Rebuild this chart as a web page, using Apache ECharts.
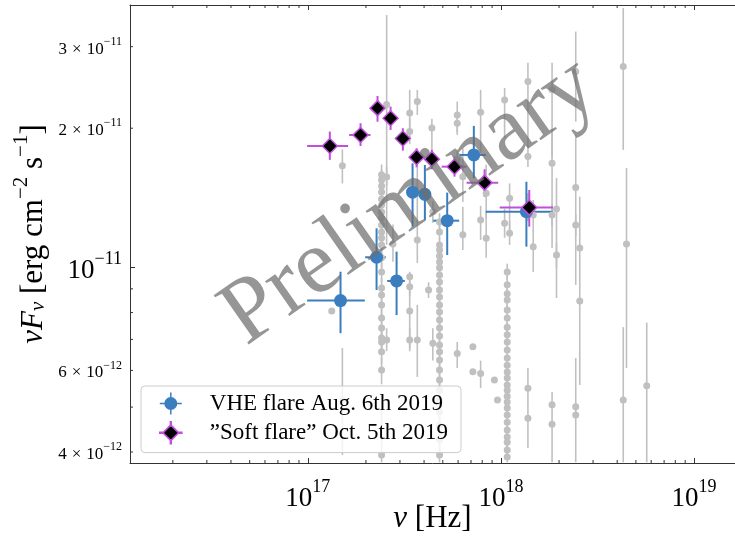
<!DOCTYPE html>
<html><head><meta charset="utf-8">
<script src="https://cdn.jsdelivr.net/npm/echarts@6/dist/echarts.min.js"></script>
<style>html,body{margin:0;padding:0;background:#fff}#c{width:735px;height:536px}</style>
</head><body><div id="c"></div>
<script>
// ---------- data (nu [Hz], nuFnu [erg cm^-2 s^-1]) ----------
const vheNu   = [1.477e17, 2.270e17, 2.882e17, 3.487e17, 4.039e17, 5.27e17, 7.24e17, 1.355e18];
const vheNuLo = [9.92e16, 1.981e17, 2.576e17, 3.33e17, 3.85e17, 4.46e17, 6.13e17, 8.36e17];
const vheNuHi = [1.974e17, 2.535e17, 3.181e17, 3.66e17, 4.24e17, 6.08e17, 8.36e17, 1.86e18];
const vheF    = [8.49e-12, 1.053e-11, 9.36e-12, 1.455e-11, 1.440e-11, 1.263e-11, 1.751e-11, 1.321e-11];
const vheFLo  = [7.22e-12, 8.95e-12, 7.90e-12, 1.226e-11, 1.268e-11, 1.065e-11, 1.560e-11, 1.110e-11];
const vheFHi  = [9.80e-12, 1.216e-11, 1.083e-11, 1.680e-11, 1.666e-11, 1.452e-11, 2.023e-11, 1.533e-11];

const softNu   = [1.300e17, 1.875e17, 2.296e17, 2.683e17, 3.106e17, 3.658e17, 4.39e17, 5.75e17, 8.23e17, 1.402e18];
const softNuLo = [9.92e16, 1.637e17, 2.146e17, 2.51e17, 2.89e17, 3.42e17, 4.04e17, 4.93e17, 6.64e17, 9.85e17];
const softNuHi = [1.618e17, 2.113e17, 2.477e17, 2.86e17, 3.34e17, 3.90e17, 4.77e17, 6.64e17, 9.68e17, 1.86e18];
const softF    = [1.831e-11, 1.934e-11, 2.210e-11, 2.102e-11, 1.900e-11, 1.732e-11, 1.715e-11, 1.652e-11, 1.526e-11, 1.348e-11];
const softFLo  = [1.709e-11, 1.831e-11, 2.066e-11, 1.983e-11, 1.789e-11, 1.647e-11, 1.631e-11, 1.572e-11, 1.423e-11, 1.226e-11];
const softFHi  = [1.967e-11, 2.050e-11, 2.348e-11, 2.227e-11, 2.000e-11, 1.810e-11, 1.795e-11, 1.737e-11, 1.631e-11, 1.471e-11];

// archival points: [nu, nuFnu, nuFnu_low, nuFnu_high]
const archival = [
 [1.33e17, 8.06e-12, 8.06e-12, 8.06e-12],
 [1.51e17, 1.66e-11, 1.52e-11, 1.80e-11],
 [1.51e17, 5.18e-12, 3.94e-12, 6.71e-12],
 [2.41e17, 1.586e-11, 1.51e-11, 1.67e-11],
 [2.41e17, 1.547e-11, 1.47e-11, 1.63e-11],
 [2.41e17, 1.501e-11, 1.43e-11, 1.58e-11],
 [2.41e17, 1.457e-11, 1.39e-11, 1.53e-11],
 [2.41e17, 1.407e-11, 1.34e-11, 1.48e-11],
 [2.41e17, 1.366e-11, 1.30e-11, 1.44e-11],
 [2.41e17, 1.319e-11, 1.25e-11, 1.39e-11],
 [2.41e17, 1.280e-11, 1.22e-11, 1.35e-11],
 [2.41e17, 1.236e-11, 1.18e-11, 1.30e-11],
 [2.41e17, 1.194e-11, 1.14e-11, 1.26e-11],
 [2.41e17, 1.159e-11, 1.10e-11, 1.22e-11],
 [2.41e17, 1.119e-11, 1.06e-11, 1.18e-11],
 [2.41e17, 1.050e-11, 1.00e-11, 1.10e-11],
 [2.41e17, 9.79e-12, 9.3e-12, 1.03e-11],
 [2.41e17, 9.04e-12, 8.6e-12, 9.5e-12],
 [2.41e17, 8.73e-12, 8.3e-12, 9.2e-12],
 [2.41e17, 8.31e-12, 7.9e-12, 8.7e-12],
 [2.41e17, 7.79e-12, 7.4e-12, 8.2e-12],
 [2.41e17, 7.41e-12, 7.0e-12, 7.8e-12],
 [2.41e17, 7.05e-12, 6.7e-12, 7.4e-12],
 [2.41e17, 6.91e-12, 6.6e-12, 7.3e-12],
 [2.41e17, 6.58e-12, 6.2e-12, 6.9e-12],
 [2.41e17, 6.01e-12, 5.6e-12, 6.4e-12],
 [2.41e17, 3.94e-12, 3.80e-12, 5.3e-12],
 [2.56e17, 2.25e-11, 1.12e-11, 3.51e-11],
 [2.56e17, 1.57e-11, 1.50e-11, 1.65e-11],
 [2.56e17, 6.98e-12, 6.6e-12, 7.4e-12],
 [2.76e17, 1.125e-11, 1.03e-11, 1.24e-11],
 [3.37e17, 2.156e-11, 1.906e-11, 2.42e-11],
 [3.37e17, 1.967e-11, 1.85e-11, 2.10e-11],
 [3.37e17, 9.56e-12, 9.56e-12, 9.56e-12],
 [3.37e17, 9.10e-12, 8.7e-12, 9.5e-12],
 [3.37e17, 8.06e-12, 6.71e-12, 9.80e-12],
 [3.37e17, 6.98e-12, 6.6e-12, 7.4e-12],
 [3.69e17, 2.283e-11, 2.137e-11, 2.42e-11],
 [3.69e17, 1.448e-11, 1.28e-11, 1.667e-11],
 [3.69e17, 1.148e-11, 1.024e-11, 1.289e-11],
 [3.69e17, 6.98e-12, 5.81e-12, 8.31e-12],
 [4.39e17, 2.003e-11, 1.726e-11, 2.096e-11],
 [4.22e17, 8.95e-12, 8.6e-12, 9.3e-12],
 [4.44e17, 1.32e-11, 1.25e-11, 1.39e-11],
 [4.44e17, 6.87e-12, 6.3e-12, 7.4e-12],
 [4.81e17, 1.255e-11, 1.21e-11, 1.31e-11],
 [4.81e17, 1.194e-11, 1.15e-11, 1.24e-11],
 [4.81e17, 1.119e-11, 1.08e-11, 1.16e-11],
 [4.81e17, 1.092e-11, 1.05e-11, 1.14e-11],
 [4.81e17, 1.060e-11, 1.02e-11, 1.10e-11],
 [4.81e17, 1.029e-11, 9.9e-12, 1.07e-11],
 [4.81e17, 9.99e-12, 9.6e-12, 1.04e-11],
 [4.81e17, 9.64e-12, 9.3e-12, 1.00e-11],
 [4.81e17, 9.31e-12, 8.9e-12, 9.7e-12],
 [4.81e17, 8.95e-12, 8.6e-12, 9.3e-12],
 [4.81e17, 8.64e-12, 8.3e-12, 9.0e-12],
 [4.81e17, 8.31e-12, 8.0e-12, 8.6e-12],
 [4.81e17, 8.02e-12, 7.7e-12, 8.3e-12],
 [4.81e17, 7.71e-12, 7.4e-12, 8.0e-12],
 [4.81e17, 7.41e-12, 7.1e-12, 7.7e-12],
 [4.81e17, 7.12e-12, 6.8e-12, 7.4e-12],
 [4.81e17, 6.81e-12, 6.5e-12, 7.1e-12],
 [4.81e17, 6.58e-12, 6.3e-12, 6.9e-12],
 [4.81e17, 6.32e-12, 6.0e-12, 6.6e-12],
 [4.81e17, 6.01e-12, 5.7e-12, 6.3e-12],
 [4.81e17, 5.72e-12, 5.5e-12, 6.0e-12],
 [4.81e17, 5.44e-12, 5.2e-12, 5.7e-12],
 [4.81e17, 5.18e-12, 4.9e-12, 5.4e-12],
 [4.81e17, 4.88e-12, 4.6e-12, 5.1e-12],
 [4.81e17, 4.57e-12, 4.3e-12, 4.8e-12],
 [4.81e17, 4.25e-12, 4.0e-12, 4.5e-12],
 [4.81e17, 3.94e-12, 3.8e-12, 4.2e-12],
 [5.94e17, 2.137e-11, 1.935e-11, 2.283e-11],
 [5.94e17, 2.05e-11, 1.96e-11, 2.14e-11],
 [5.94e17, 1.708e-11, 1.62e-11, 1.80e-11],
 [5.94e17, 6.53e-12, 6.07e-12, 6.91e-12],
 [6.35e17, 1.572e-11, 1.386e-11, 1.814e-11],
 [6.35e17, 1.177e-11, 1.092e-11, 1.354e-11],
 [7.16e17, 6.75e-12, 6.75e-12, 6.75e-12],
 [7.16e17, 5.96e-12, 5.96e-12, 5.96e-12],
 [7.85e17, 2.166e-11, 1.752e-11, 2.42e-11],
 [7.85e17, 1.268e-11, 1.148e-11, 1.36e-11],
 [7.85e17, 5.91e-12, 5.5e-12, 6.3e-12],
 [8.39e17, 1.448e-11, 1.28e-11, 1.667e-11],
 [8.39e17, 1.157e-11, 1.05e-11, 1.33e-11],
 [9.25e17, 5.72e-12, 5.72e-12, 5.72e-12],
 [9.6e17, 5.18e-12, 5.18e-12, 5.18e-12],
 [1.045e18, 2.302e-11, 1.906e-11, 2.444e-11],
 [1.045e18, 1.247e-11, 1.16e-11, 1.34e-11],
 [1.078e18, 9.79e-12, 9.4e-12, 1.02e-11],
 [1.078e18, 9.18e-12, 8.8e-12, 9.6e-12],
 [1.078e18, 8.78e-12, 8.4e-12, 9.2e-12],
 [1.078e18, 8.52e-12, 8.2e-12, 8.9e-12],
 [1.078e18, 8.10e-12, 7.8e-12, 8.4e-12],
 [1.078e18, 7.79e-12, 7.5e-12, 8.1e-12],
 [1.078e18, 7.44e-12, 7.1e-12, 7.8e-12],
 [1.078e18, 7.16e-12, 6.9e-12, 7.5e-12],
 [1.078e18, 6.91e-12, 6.6e-12, 7.2e-12],
 [1.078e18, 6.64e-12, 6.4e-12, 6.9e-12],
 [1.078e18, 6.38e-12, 6.1e-12, 6.6e-12],
 [1.078e18, 6.16e-12, 5.9e-12, 6.4e-12],
 [1.078e18, 5.95e-12, 5.7e-12, 6.2e-12],
 [1.078e18, 5.78e-12, 5.5e-12, 6.0e-12],
 [1.078e18, 5.58e-12, 5.4e-12, 5.8e-12],
 [1.078e18, 5.44e-12, 5.2e-12, 5.7e-12],
 [1.078e18, 5.28e-12, 5.1e-12, 5.5e-12],
 [1.078e18, 5.13e-12, 4.9e-12, 5.3e-12],
 [1.078e18, 4.98e-12, 4.8e-12, 5.2e-12],
 [1.078e18, 4.81e-12, 4.6e-12, 5.0e-12],
 [1.078e18, 4.64e-12, 4.5e-12, 4.8e-12],
 [1.078e18, 4.46e-12, 4.3e-12, 4.6e-12],
 [1.078e18, 4.31e-12, 4.1e-12, 4.5e-12],
 [1.078e18, 4.20e-12, 4.0e-12, 4.4e-12],
 [1.078e18, 4.04e-12, 3.9e-12, 4.2e-12],
 [1.078e18, 3.90e-12, 3.8e-12, 4.1e-12],
 [1.109e18, 1.412e-11, 1.187e-11, 1.52e-11],
 [1.109e18, 1.187e-11, 1.12e-11, 1.26e-11],
 [1.38e18, 2.522e-11, 1.814e-11, 2.768e-11],
 [1.38e18, 1.737e-11, 1.65e-11, 1.83e-11],
 [1.38e18, 1.354e-11, 1.26e-11, 1.45e-11],
 [1.38e18, 5.49e-12, 4.08e-12, 6.07e-12],
 [1.38e18, 4.73e-12, 4.73e-12, 4.73e-12],
 [1.47e18, 1.30e-11, 1.20e-11, 1.40e-11],
 [1.47e18, 1.11e-11, 9.79e-12, 1.206e-11],
 [1.84e18, 2.42e-11, 1.734e-11, 2.768e-11],
 [1.84e18, 1.681e-11, 1.103e-11, 1.964e-11],
 [1.84e18, 1.30e-11, 1.23e-11, 1.37e-11],
 [1.84e18, 5.06e-12, 3.80e-12, 5.39e-12],
 [1.84e18, 4.59e-12, 4.59e-12, 4.59e-12],
 [1.94e18, 1.339e-11, 8.60e-12, 1.562e-11],
 [1.94e18, 1.065e-11, 1.0e-11, 1.13e-11],
 [2.44e18, 2.651e-11, 2.067e-11, 3.234e-11],
 [2.44e18, 1.489e-11, 9.18e-12, 1.935e-11],
 [2.44e18, 1.236e-11, 1.17e-11, 1.30e-11],
 [2.44e18, 5.01e-12, 3.80e-12, 6.38e-12],
 [2.44e18, 4.81e-12, 4.81e-12, 4.81e-12],
 [2.56e18, 1.103e-11, 5.58e-12, 1.423e-11],
 [2.56e18, 8.47e-12, 8.47e-12, 8.47e-12],
 [4.30e18, 2.718e-11, 1.796e-11, 3.633e-11],
 [4.30e18, 5.18e-12, 3.80e-12, 7.44e-12],
 [4.47e18, 1.125e-11, 6.07e-12, 1.642e-11],
 [5.69e18, 5.56e-12, 3.80e-12, 7.61e-12]
];

// axes
const xRange = [1.2e16, 1.63e19];
const yRange = [3.787e-12, 3.69e-11];
const xMinorTicks = [2e16,3e16,4e16,5e16,6e16,7e16,8e16,9e16,2e17,3e17,4e17,5e17,6e17,7e17,8e17,9e17,2e18,3e18,4e18,5e18,6e18,7e18,8e18,9e18];
const yMinorTicks = [4e-12,5e-12,6e-12,7e-12,8e-12,9e-12,2e-11,3e-11];
const yMinorLabelValues = [4e-12, 6e-12, 2e-11, 3e-11];
const yMinorLabelMant   = ['4', '6', '2', '3'];
const yMinorLabelExp    = ['−12', '−12', '−11', '−11'];

const nameVHE  = 'VHE flare Aug. 6th 2019';
const nameSoft = '”Soft flare” Oct. 5th 2019';

// ---------- style ----------
const SERIF = '"Liberation Serif", "DejaVu Serif", serif';
const BLUE = '#3a7ebf', VIOLET = '#c24fdc', GREY = '#c0c0c0', AX = '#333333';

function errRenderer(color, lw) {
  return function (params, api) {
    const x = api.value(0), y = api.value(1);
    const c = api.coord([x, y]);
    const xl = api.coord([api.value(2), y])[0], xh = api.coord([api.value(3), y])[0];
    const yl = api.coord([x, api.value(4)])[1], yh = api.coord([x, api.value(5)])[1];
    const ch = [];
    if (Math.abs(xh - xl) > 0.5) ch.push({type: 'line', shape: {x1: xl, y1: c[1], x2: xh, y2: c[1]}, style: {stroke: color, lineWidth: lw}});
    if (Math.abs(yh - yl) > 0.5) ch.push({type: 'line', shape: {x1: c[0], y1: yl, x2: c[0], y2: yh}, style: {stroke: color, lineWidth: lw}});
    return {type: 'group', children: ch};
  };
}
const archErr = archival.map(r => [r[0], r[1], r[0], r[0], r[2], r[3]]);
const vheErr = vheNu.map((v, i) => [v, vheF[i], vheNuLo[i], vheNuHi[i], vheFLo[i], vheFHi[i]]);
const softErr = softNu.map((v, i) => [v, softF[i], softNuLo[i], softNuHi[i], softFLo[i], softFHi[i]]);

const bigRich = {
  b: {fontFamily: SERIF, fontSize: 27, lineHeight: 34, verticalAlign: 'bottom', color: '#000'},
  s: {fontFamily: SERIF, fontSize: 18, lineHeight: 18, verticalAlign: 'top', color: '#000'}
};
const smallRich = {
  b: {fontFamily: SERIF, fontSize: 17, lineHeight: 22, verticalAlign: 'bottom', fill: '#000'},
  x: {fontFamily: SERIF, fontSize: 17, lineHeight: 22, verticalAlign: 'bottom', padding: [0, 5, 0, 5], fill: '#000'},
  s: {fontFamily: SERIF, fontSize: 12, lineHeight: 12, verticalAlign: 'top', fill: '#000'}
};
const nameRich = {
  i: {fontFamily: SERIF, fontSize: 31, lineHeight: 38, fontStyle: 'italic', verticalAlign: 'bottom', color: '#000'},
  n: {fontFamily: SERIF, fontSize: 31, lineHeight: 38, verticalAlign: 'bottom', color: '#000'},
  sb: {fontFamily: SERIF, fontSize: 21, lineHeight: 21, fontStyle: 'italic', verticalAlign: 'bottom', color: '#000'},
  sp: {fontFamily: SERIF, fontSize: 21, lineHeight: 21, verticalAlign: 'top', color: '#000'}
};
function powLabel(v) {
  const e = Math.round(Math.log10(v));
  return '{b|10}{s|' + String(e).replace('-', '−') + '}';
}

const blueIcon = 'path://M10.25,0H11.75V22H10.25Z M0,10.25H22V11.75H0Z M11,4.5A6.5,6.5,0,1,1,10.99,4.5Z';
const softIcon = 'path://M10.6,0H11.4V3.6L18.4,10.6H22V11.4H18.4L11.4,18.4V22H10.6V18.4L3.6,11.4H0V10.6H3.6L10.6,3.6Z';

const chart = echarts.init(document.getElementById('c'), null, {renderer: 'canvas'});
chart.setOption({
  animation: false,
  backgroundColor: '#ffffff',
  grid: {left: 130, right: 0, top: 5, bottom: 73, containLabel: false, outerBoundsMode: 'none'},
  xAxis: [{
    type: 'log', logBase: 10, min: xRange[0], max: xRange[1], position: 'bottom',
    axisLine: {show: true, onZero: false, lineStyle: {color: AX, width: 1}},
    axisTick: {show: true, inside: true, length: 5, lineStyle: {color: AX, width: 1}},
    axisLabel: {show: true, margin: 15, showMinLabel: false, showMaxLabel: false, formatter: powLabel, rich: bigRich},
    splitLine: {show: false},
    name: '{i|ν}{n| [Hz]}', nameLocation: 'middle', nameGap: 33, nameMoveOverlap: false,
    nameTextStyle: {rich: nameRich}
  }, {
    type: 'log', logBase: 10, min: xRange[0], max: xRange[1], position: 'top',
    axisLine: {show: true, onZero: false, lineStyle: {color: AX, width: 1}},
    axisTick: {show: true, inside: true, length: 5, lineStyle: {color: AX, width: 1}},
    axisLabel: {show: false}, splitLine: {show: false}
  }],
  yAxis: [{
    type: 'log', logBase: 10, min: yRange[0], max: yRange[1], position: 'left',
    axisLine: {show: true, onZero: false, lineStyle: {color: AX, width: 1}},
    axisTick: {show: true, inside: true, length: 5, lineStyle: {color: AX, width: 1}},
    axisLabel: {show: true, margin: 8, showMinLabel: false, showMaxLabel: false, formatter: powLabel, rich: bigRich},
    splitLine: {show: false},
    name: '{i|νF}{sb|ν}{n| [erg cm}{sp|−2}{n| s}{sp|−1}{n|]}', nameLocation: 'middle', nameGap: 81, nameRotate: 90, nameMoveOverlap: false,
    nameTextStyle: {rich: nameRich}
  }],
  legend: {
    show: true, orient: 'vertical', left: 141, top: 386,
    padding: [6, 13, 8, 18], itemGap: 6, itemWidth: 22, itemHeight: 22,
    backgroundColor: 'rgba(255,255,255,0.8)', borderColor: '#cccccc', borderWidth: 1, borderRadius: 4,
    selectedMode: false,
    formatter: n => '{t|' + n + '}',
    textStyle: {rich: {t: {fontFamily: SERIF, fontSize: 23, lineHeight: 22, color: '#000', padding: [0, 0, 0, 23]}}},
    data: [
      {name: nameVHE, icon: blueIcon, itemStyle: {color: BLUE, borderWidth: 0}},
      {name: nameSoft, icon: softIcon, itemStyle: {color: '#000000', borderColor: VIOLET, borderWidth: 1.6}}
    ]
  },
  graphic: [{
    type: 'text', x: 410, y: 202, rotation: 35 * Math.PI / 180, z: 100, silent: true,
    style: {text: 'Preliminary', font: '92px "Liberation Serif", serif', fill: 'rgba(110,110,110,0.72)', align: 'center', verticalAlign: 'middle'}
  }],
  series: [
    {type: 'custom', name: 'archival_err', data: archErr, encode: {x: 0, y: 1}, renderItem: errRenderer(GREY, 1.6), silent: true, clip: false},
    {type: 'scatter', name: 'archival', data: archival.map(r => [r[0], r[1]]), symbol: 'circle', symbolSize: 7, itemStyle: {color: GREY, opacity: 1}, silent: true},
    {type: 'custom', name: nameVHE, data: vheErr, encode: {x: 0, y: 1}, renderItem: errRenderer(BLUE, 2), silent: true, clip: false},
    {type: 'scatter', name: nameVHE, data: vheNu.map((v, i) => [v, vheF[i]]), symbol: 'circle', symbolSize: 13, itemStyle: {color: BLUE, opacity: 1}, silent: true},
    {type: 'custom', name: nameSoft, data: softErr, encode: {x: 0, y: 1}, renderItem: errRenderer(VIOLET, 2), silent: true, clip: false},
    {type: 'scatter', name: nameSoft, data: softNu.map((v, i) => [v, softF[i]]), symbol: 'diamond', symbolSize: 15, itemStyle: {color: '#000000', borderColor: VIOLET, borderWidth: 1.5, opacity: 1}, silent: true},
    {type: 'custom', name: 'xminor', data: xMinorTicks.map(v => [v, yRange[0]]), encode: {x: 0, y: 1}, silent: true, clip: false,
      renderItem: (p, api) => {
        const v = api.value(0);
        const b = api.coord([v, yRange[0]]), t = api.coord([v, yRange[1]]);
        return {type: 'group', children: [
          {type: 'line', shape: {x1: b[0], y1: b[1], x2: b[0], y2: b[1] - 3}, style: {stroke: AX, lineWidth: 1}},
          {type: 'line', shape: {x1: t[0], y1: t[1], x2: t[0], y2: t[1] + 3}, style: {stroke: AX, lineWidth: 1}}
        ]};
      }},
    {type: 'custom', name: 'yminor', data: yMinorTicks.map(v => [xRange[0], v]), encode: {x: 0, y: 1}, silent: true, clip: false,
      renderItem: (p, api) => {
        const c = api.coord([xRange[0], api.value(1)]);
        return {type: 'line', shape: {x1: c[0], y1: c[1], x2: c[0] + 3, y2: c[1]}, style: {stroke: AX, lineWidth: 1}};
      }},
    {type: 'custom', name: 'yminorlabels', data: yMinorLabelValues.map((v, i) => [xRange[0], v, i]), encode: {x: 0, y: 1}, silent: true, clip: false,
      renderItem: (p, api) => {
        const c = api.coord([xRange[0], api.value(1)]);
        const i = api.value(2);
        return {type: 'text', x: c[0] - 8, y: c[1], style: {
          text: '{b|' + yMinorLabelMant[i] + '}{x|×}{b|10}{s|' + yMinorLabelExp[i] + '}',
          rich: smallRich, align: 'right', verticalAlign: 'middle', fill: '#000'
        }};
      }}
  ]
});
</script></body></html>
